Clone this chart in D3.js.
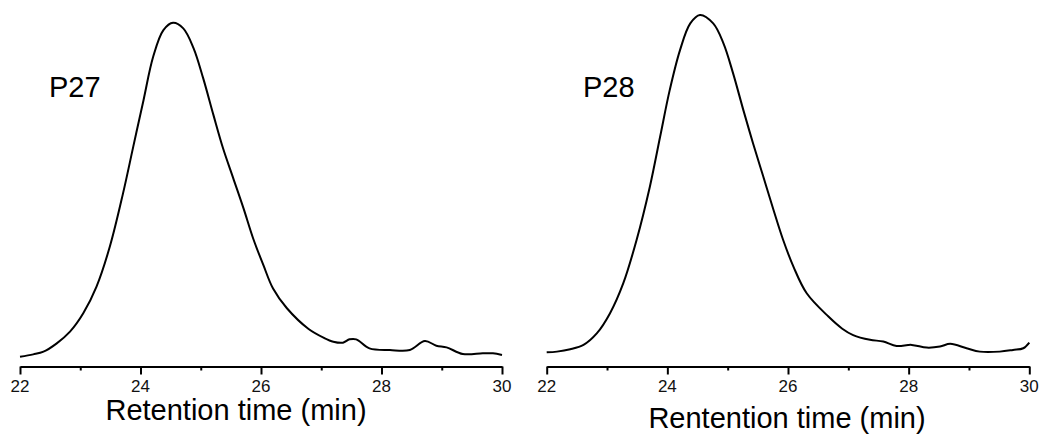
<!DOCTYPE html>
<html>
<head>
<meta charset="utf-8">
<script src="https://cdn.jsdelivr.net/npm/d3@7"></script>
<style>
  body { margin: 0; background: #fff; }
  svg text { font-family: "Liberation Sans", Arial, sans-serif; fill: #000; }
</style>
</head>
<body>
<svg id="chart" width="1041" height="437"></svg>
<script>
// retention time (min) and relative signal
const timeP27 = [22.00, 22.22, 22.39, 22.61, 22.83, 23.05, 23.27, 23.49, 23.71, 23.88,
                 24.05, 24.21, 24.38, 24.54, 24.71, 24.88, 25.04, 25.21, 25.37, 25.54,
                 25.71, 25.87, 26.04, 26.20, 26.43, 26.79, 27.05, 27.20, 27.36, 27.47, 27.58,
                 27.80, 28.14, 28.47, 28.72, 28.91, 29.08, 29.35, 29.68, 29.85, 30.00];
const signalP27 = [0, 0.7, 1.5, 4.0, 7.5, 13.0, 21.0, 32.9, 48.9, 62.9,
                   76.8, 89.8, 97.8, 100, 98.3, 92.4, 83.4, 72.4, 62.4, 53.4,
                   44.4, 35.4, 27.4, 20.4, 14.5, 8.3, 5.6, 4.5, 4.2, 5.2, 5.2,
                   2.5, 2.0, 2.0, 4.7, 3.3, 2.8, 0.8, 1.0, 1.0, 0.5];

const timeP28 = [22.00, 22.17, 22.39, 22.61, 22.83, 23.05, 23.27, 23.49, 23.71, 23.88,
                 24.04, 24.21, 24.38, 24.54, 24.76, 24.93, 25.09, 25.26, 25.42, 25.59,
                 25.76, 25.92, 26.09, 26.31, 26.67, 26.90, 27.08, 27.36, 27.58, 27.80, 28.05,
                 28.30, 28.52, 28.69, 28.96, 29.18, 29.51, 29.73, 29.90, 30.00];
const signalP28 = [0, 0.2, 0.9, 2.2, 5.6, 11.6, 20.5, 33.3, 49.1, 63.9,
                   77.8, 89.6, 97.5, 100, 97.5, 91.6, 82.7, 71.8, 62.0, 52.1,
                   42.2, 33.3, 25.4, 17.5, 10.6, 7.0, 5.1, 3.7, 3.2, 1.9, 2.2,
                   1.4, 1.7, 2.5, 1.2, 0.2, 0.2, 0.7, 1.2, 2.9];

const majorTicks = [22, 24, 26, 28, 30];
const minorTicks = [23, 25, 27, 29];

const panels = [
  {name: 'P27', time: timeP27, signal: signalP27, x0: 20, x1: 502, yBase: 356.7, yTop: 22.7,
   labelX: 49, title: 'Retention time (min)', titleX: 236, titleY: 420},
  {name: 'P28', time: timeP28, signal: signalP28, x0: 546.7, x1: 1029.3, yBase: 352.3, yTop: 15,
   labelX: 583, title: 'Rentention time (min)', titleX: 787, titleY: 428}
];

const svg = d3.select('#chart');
const axisY = 366.5;

panels.forEach(p => {
  const x = d3.scaleLinear().domain([22, 30]).range([p.x0, p.x1]);
  const y = d3.scaleLinear().domain([0, 100]).range([p.yBase, p.yTop]);

  const g = svg.append('g');

  // minor ticks
  g.append('g')
    .attr('transform', `translate(0, ${axisY})`)
    .call(d3.axisBottom(x).tickValues(minorTicks).tickSize(4).tickSizeOuter(0).tickFormat(''))
    .call(a => a.select('.domain').remove())
    .call(a => a.selectAll('line').attr('stroke-width', 2));

  // major ticks (labels drawn below)
  g.append('g')
    .attr('transform', `translate(0, ${axisY})`)
    .call(d3.axisBottom(x).tickValues(majorTicks).tickSize(8).tickSizeOuter(0).tickFormat(''))
    .call(a => a.select('.domain').attr('stroke-width', 2))
    .call(a => a.selectAll('line').attr('stroke-width', 2));

  g.selectAll('text.ticklabel')
    .data(majorTicks)
    .enter()
    .append('text')
    .attr('class', 'ticklabel')
    .attr('x', d => x(d))
    .attr('y', 392)
    .attr('text-anchor', 'middle')
    .style('font-size', '17px')
    .style('fill', '#111')
    .text(d => d);

  const pts = p.time.map((t, i) => [t, p.signal[i]]);
  g.append('path')
    .datum(pts)
    .attr('fill', 'none')
    .attr('stroke', '#000')
    .attr('stroke-width', 2)
    .attr('stroke-linejoin', 'round')
    .attr('d', d3.line().x(d => x(d[0])).y(d => y(d[1])).curve(d3.curveCatmullRom.alpha(0.5)));

  g.append('text')
    .attr('x', p.labelX)
    .attr('y', 97)
    .style('font-size', '29px')
    .text(p.name);

  g.append('text')
    .attr('x', p.titleX)
    .attr('y', p.titleY)
    .attr('text-anchor', 'middle')
    .style('font-size', '29px')
    .text(p.title);
});
</script>
</body>
</html>
